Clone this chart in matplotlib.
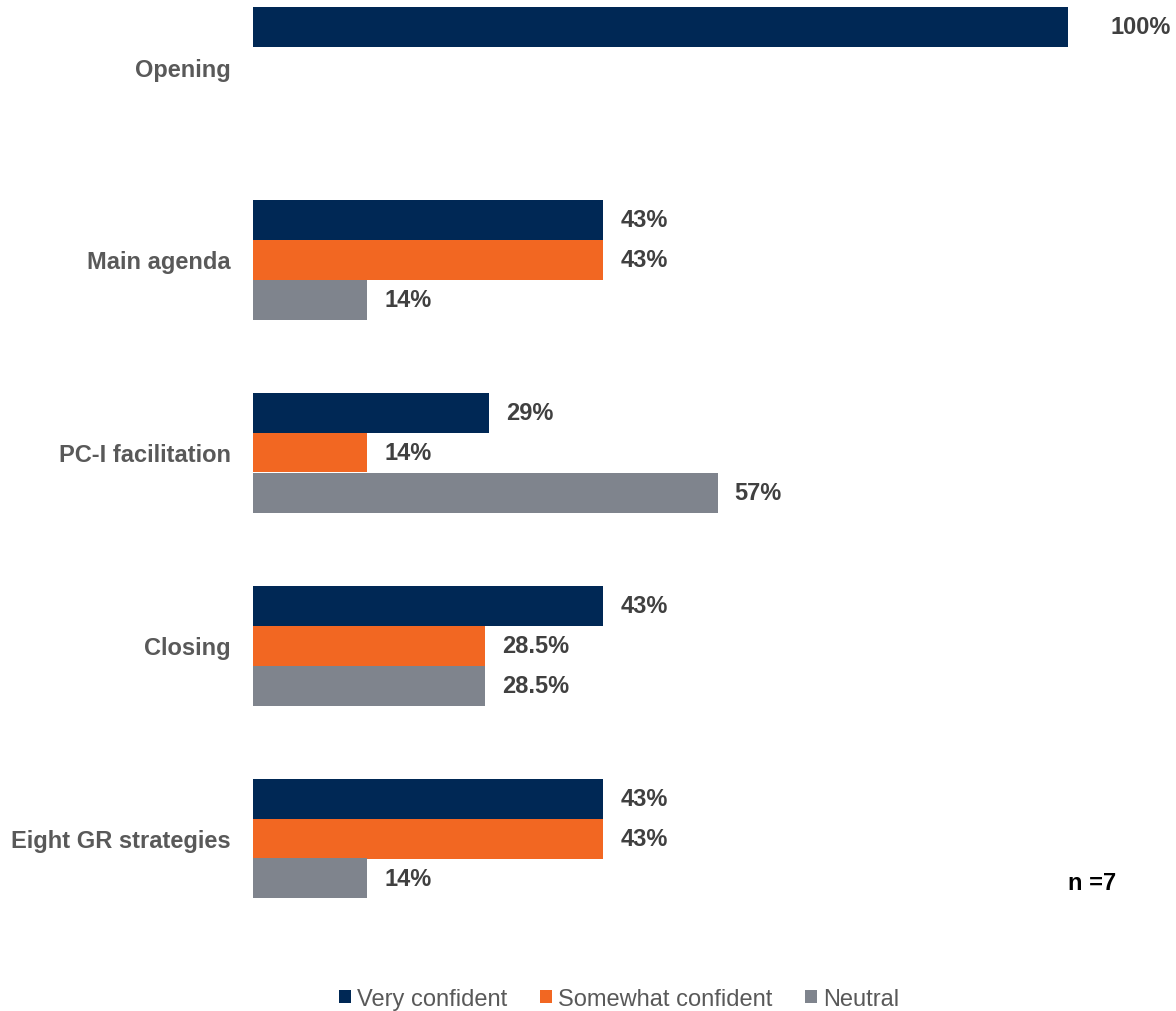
import matplotlib
matplotlib.use('Agg')
import matplotlib.pyplot as plt
import numpy as np
from matplotlib.patches import Patch

plt.rcParams['font.family'] = ['Liberation Sans', 'DejaVu Sans']

# ── Data ────────────────────────────────────────────────────────────────────
categories = ['Opening', 'Main agenda', 'PC-I facilitation', 'Closing', 'Eight GR strategies']
very_confident = [100, 43, 29, 43, 43]
somewhat_confident = [0, 43, 14, 28.5, 43]
neutral = [0, 14, 57, 28.5, 14]

series_names = ['Very confident', 'Somewhat confident', 'Neutral']
colors = ['#002855', '#F26722', '#7F848D']

W, H = 1176, 1012
fig = plt.figure(figsize=(W / 100, H / 100), dpi=100)
# axes placed in pixel terms: x 253..1068, y 0..940
ax = fig.add_axes([253 / W, 1 - 940 / H, (1068 - 253) / W, 940 / H])

y = np.arange(len(categories))
bar_h = 40 / 193
first_center = 67.5
all_series = [very_confident, somewhat_confident, neutral]

for k, (vals, name, color) in enumerate(zip(all_series, series_names, colors)):
    pos = y + (k - 1) * bar_h
    ax.barh(pos, vals, height=bar_h, color=color, label=name)
    for p, v in zip(pos, vals):
        if v <= 0:
            continue
        txt = f'{v:g}%'
        pad = 42 if v >= 100 else 17
        ax.annotate(txt, xy=(v, p), xytext=(pad, 0), textcoords='offset pixels',
                    ha='left', va='center', fontsize=17, fontweight='bold',
                    color='#404040', annotation_clip=False)

ax.set_xlim(0, 100)
ax.set_ylim((940 - first_center) / 193, -first_center / 193)
ax.set_yticks(y)
ax.set_yticklabels(categories, fontsize=17, fontweight='bold', color='#595959')
ax.tick_params(axis='y', length=0, pad=16)
ax.set_xticks([])
for s in ax.spines.values():
    s.set_visible(False)

fig.text(1068 / W, 1 - 884 / H, 'n =7', ha='left', va='center',
         fontsize=17, fontweight='bold', color='black')

handles = [Patch(facecolor=c, label=n) for c, n in zip(colors, series_names)]
fig.legend(handles=handles, loc='center', bbox_to_anchor=(619 / W, 1 - 1000 / H),
           ncol=3, frameon=False, fontsize=17, handlelength=0.5, handleheight=0.5,
           handletextpad=0.25, columnspacing=1.4, labelcolor='#595959')

fig.savefig('out.png', dpi=100)
